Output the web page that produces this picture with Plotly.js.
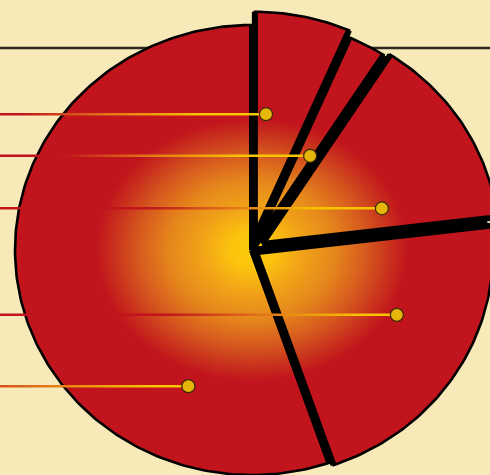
<!DOCTYPE html>
<html><head><meta charset="utf-8">
<script src="https://cdn.plot.ly/plotly-3.0.1.min.js"></script>
<style>html,body{margin:0;padding:0;background:#f8e9b9;}#chart{width:490px;height:475px;}</style>
</head><body><div id="chart"></div>
<script>
// ---------- data ----------
const categories = ['Slice A', 'Slice B', 'Slice C', 'Slice D', 'Slice E'];
const values = [6.5, 2.6, 14.0, 21.6, 55.3];

// ---------- style / layout constants ----------
const W = 490, H = 475;
const CX_PX = 252, CY_PX = 250, RX_PX = 237, RY_PX = 225;   // pie centre and radii in px
const pulls = [0.06, 0.03, 0.05, 0.02, 0];                  // slice explode (fraction of radius)
const anchorAngleFrac = [0.21, 0.76, 0.79, 0.41, 0.216];    // where each leader dot sits in its slice
const anchorRadius = [0.547, 0.455, 0.530, 0.656, 0.662];
const leaderRedPx = [20, 60, 150, 170, -60];                // gradient start (red) along each leader
const leaderYellowPx = [200, 240, 320, 360, 150];           // gradient end (yellow)
const GLOW_RX = 0.66, GLOW_RY = 0.585;                      // radial glow size
const RED = '#c1141c', BLACK = '#000000';
const glowScale = [[0, '#fdcd0a'], [0.14, '#fbc30e'], [0.33, '#f1a218'], [0.53, '#e5861c'],
                   [0.73, '#d6591e'], [0.88, '#c9321d'], [1, RED]];
const leaderScale = [[0, RED], [0.45, '#e0701a'], [1, '#f8c400']];

// ---------- geometry from values ----------
const rad = Math.PI / 180;
const px2x = p => (p - CX_PX) / RX_PX;
const pt = (a, r, off) => [off[0] + r * Math.sin(a * rad), off[1] + r * Math.cos(a * rad)];
const total = values.reduce((s, v) => s + v, 0);
let cum = 0;
const slices = values.map((v, i) => {
  const a0 = cum / total * 360; cum += v; const a1 = cum / total * 360;
  const mid = (a0 + a1) / 2;
  return {a0, a1, mid, off: [pulls[i] * Math.sin(mid * rad), pulls[i] * Math.cos(mid * rad)]};
});

function arc(a0, a1, r, off, rx, ry) {
  const n = Math.max(2, Math.ceil((a1 - a0) / 1));
  const xs = [], ys = [];
  for (let k = 0; k <= n; k++) {
    const a = a0 + (a1 - a0) * k / n;
    xs.push(off[0] + (rx || r) * Math.sin(a * rad));
    ys.push(off[1] + (ry || r) * Math.cos(a * rad));
  }
  return [xs, ys];
}

const traces = [];
// black underlay disc (fills gaps between exploded slices)
{
  const [xs, ys] = arc(0, 360, 1, [0, 0]);
  traces.push({type: 'scatter', mode: 'lines', x: xs, y: ys, fill: 'toself', fillcolor: BLACK,
    line: {width: 0, color: BLACK}, hoverinfo: 'skip'});
}
// red slices
slices.forEach((s, i) => {
  const [xs, ys] = arc(s.a0, s.a1, 1, s.off);
  traces.push({type: 'scatter', mode: 'lines', name: categories[i],
    x: [s.off[0], ...xs, s.off[0]], y: [s.off[1], ...ys, s.off[1]],
    fill: 'toself', fillcolor: RED, line: {color: BLACK, width: 2.6},
    hoveron: 'fills', text: categories[i] + ': ' + values[i], hoverinfo: 'text'});
});
// radial glow
{
  const [xs, ys] = arc(0, 360, 1, [0, 0], GLOW_RX, GLOW_RY);
  traces.push({type: 'scatter', mode: 'lines', x: xs, y: ys, fill: 'toself',
    fillgradient: {type: 'radial', colorscale: glowScale},
    line: {width: 0, color: RED}, hoverinfo: 'skip'});
}
// thick black dividers
{
  const xs = [], ys = [];
  slices.forEach(s => {
    const e0 = pt(s.a0, 1, [0, 0]);
    xs.push(0, e0[0], null); ys.push(0, e0[1], null);
    const c0 = pt(s.a0, 1, s.off), c1 = pt(s.a1, 1, s.off);
    xs.push(s.off[0], c0[0], null, s.off[0], c1[0], null);
    ys.push(s.off[1], c0[1], null, s.off[1], c1[1], null);
  });
  traces.push({type: 'scatter', mode: 'lines', x: xs, y: ys, line: {color: BLACK, width: 6},
    connectgaps: false, hoverinfo: 'skip'});
}
// leader lines + dots
const dotX = [], dotY = [];
slices.forEach((s, i) => {
  const a = s.a0 + (s.a1 - s.a0) * anchorAngleFrac[i];
  const p = pt(a, anchorRadius[i], s.off);
  dotX.push(p[0]); dotY.push(p[1]);
});
const halfT = 1.25 / RY_PX;
dotX.forEach((dx, i) => {
  const y = dotY[i], x0 = -1.3;
  traces.push({type: 'scatter', mode: 'lines',
    x: [x0, dx, dx, x0, x0], y: [y - halfT, y - halfT, y + halfT, y + halfT, y - halfT],
    fill: 'toself', line: {width: 0, color: RED},
    fillgradient: {type: 'horizontal', start: px2x(leaderRedPx[i]), stop: px2x(leaderYellowPx[i]), colorscale: leaderScale},
    hoverinfo: 'skip'});
});
traces.push({type: 'scatter', mode: 'markers', x: dotX, y: dotY,
  marker: {size: 13, color: '#e7b60a', line: {color: '#3b2a05', width: 1.2}},
  text: categories, hoverinfo: 'text'});

const layout = {
  width: W, height: H, margin: {l: 0, r: 0, t: 0, b: 0},
  paper_bgcolor: '#f8e9b9', plot_bgcolor: '#f8e9b9', showlegend: false,
  xaxis: {range: [px2x(0), px2x(W)], visible: false, fixedrange: true},
  yaxis: {range: [(CY_PX - H) / RY_PX, CY_PX / RY_PX], visible: false, fixedrange: true},
  shapes: [{type: 'line', xref: 'paper', yref: 'paper', x0: 0, x1: 1, y0: 1 - 48 / H, y1: 1 - 48 / H,
    line: {color: '#2f2a22', width: 2.5}, layer: 'below'}],
  hovermode: 'closest'
};
Plotly.newPlot('chart', traces, layout, {displayModeBar: false, staticPlot: true});
</script></body></html>
